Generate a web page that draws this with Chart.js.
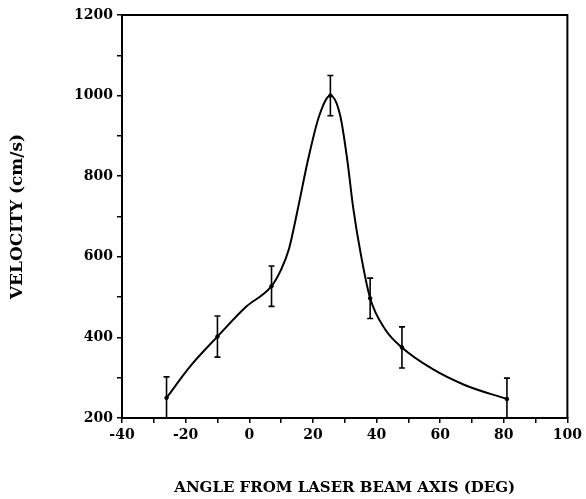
<!DOCTYPE html>
<html>
<head>
<meta charset="utf-8">
<script src="https://cdn.jsdelivr.net/npm/chart.js@4/dist/chart.umd.min.js"></script>
<style>
html,body{margin:0;padding:0;background:#fff;}
#wrap{width:586px;height:499px;position:relative;}
</style>
</head>
<body>
<div id="wrap"><canvas id="c" width="586" height="499"></canvas></div>
<script>
// Measured points (angle in deg, velocity in cm/s, error half-height)
const angles   = [-26, -10, 7, 25.5, 38, 48, 81];
const velocity = [250, 402, 527, 1000, 497, 375, 247];
const errors   = [52, 51, 50, 50, 50, 51, 52];

// Smooth curve
const curveX = [-26, -18.7, -10, -1, 7, 10, 12.5, 15.3, 18.6, 22, 25.5, 28.6, 30.8, 32.7, 35, 38, 42.8, 48, 57.3, 67.7, 81];
const curveY = [250, 327, 402, 476, 527, 568, 620, 720, 845, 950, 1000, 950, 841, 720, 609, 497, 419, 375, 323, 282, 247];

const xTicksMajor = [-40, -20, 0, 20, 40, 60, 80, 100];
const yTicksMajor = [200, 400, 600, 800, 1000, 1200];

const FONT = 'DejaVu Serif';

const errorBarPlugin = {
  id: 'errorBars',
  afterDatasetsDraw(chart) {
    const ctx = chart.ctx, xs = chart.scales.x, ys = chart.scales.y, a = chart.chartArea;
    ctx.save();
    ctx.beginPath();
    ctx.rect(a.left, a.top, a.right - a.left, a.bottom - a.top);
    ctx.clip();
    ctx.strokeStyle = '#000';
    ctx.lineWidth = 1.6;
    angles.forEach((ang, i) => {
      const px = xs.getPixelForValue(ang);
      const top = ys.getPixelForValue(velocity[i] + errors[i]);
      const bot = ys.getPixelForValue(velocity[i] - errors[i]);
      ctx.beginPath();
      ctx.moveTo(px, top); ctx.lineTo(px, bot);
      ctx.moveTo(px - 3, top); ctx.lineTo(px + 3, top);
      ctx.moveTo(px - 3, bot); ctx.lineTo(px + 3, bot);
      ctx.stroke();
    });
    ctx.restore();
  }
};

const framePlugin = {
  id: 'frame',
  afterDraw(chart) {
    const ctx = chart.ctx, a = chart.chartArea;
    ctx.save();
    ctx.strokeStyle = '#000';
    ctx.lineWidth = 2;
    ctx.beginPath();
    ctx.moveTo(a.left, a.top); ctx.lineTo(a.right, a.top); ctx.lineTo(a.right, a.bottom);
    ctx.stroke();
    ctx.restore();
  }
};

new Chart(document.getElementById('c'), {
  type: 'scatter',
  data: {
    datasets: [
      {
        type: 'line',
        data: curveX.map((x, i) => ({x: x, y: curveY[i]})),
        borderColor: '#000',
        borderWidth: 2,
        pointRadius: 0,
        cubicInterpolationMode: 'monotone',
        fill: false
      },
      {
        data: angles.map((x, i) => ({x: x, y: velocity[i]})),
        backgroundColor: '#000',
        borderColor: '#000',
        pointRadius: 1.8
      }
    ]
  },
  options: {
    responsive: false,
    animation: false,
    devicePixelRatio: 1,
    layout: {padding: {top: 15, right: 16, left: 0, bottom: 0}},
    plugins: {legend: {display: false}, tooltip: {enabled: false}},
    scales: {
      x: {
        type: 'linear', min: -40, max: 100,
        afterFit(s) { s.height = 81; },
        ticks: {
          stepSize: 10, autoSkip: false, maxRotation: 0, padding: 4,
          color: '#000', font: {family: FONT, weight: 'bold', size: 14},
          callback: v => xTicksMajor.includes(v) ? String(v) : ''
        },
        grid: {drawOnChartArea: false, tickLength: 5, color: '#000', lineWidth: 1.5},
        border: {color: '#000', width: 2},
        title: {display: true, text: 'ANGLE FROM LASER BEAM AXIS (DEG)', color: '#000',
                font: {family: FONT, weight: 'bold', size: 15}, padding: {top: 0, bottom: 2}}
      },
      y: {
        type: 'linear', min: 200, max: 1200,
        afterFit(s) { s.width = 122; },
        ticks: {
          stepSize: 100, autoSkip: false, padding: 4,
          color: '#000', font: {family: FONT, weight: 'bold', size: 14},
          callback: v => yTicksMajor.includes(v) ? String(v) : ''
        },
        grid: {drawOnChartArea: false, tickLength: 5, color: '#000', lineWidth: 1.5},
        border: {color: '#000', width: 2},
        title: {display: true, text: 'VELOCITY (cm/s)', color: '#000',
                font: {family: FONT, weight: 'bold', size: 17}, padding: {top: 7, bottom: 0}}
      }
    }
  },
  plugins: [errorBarPlugin, framePlugin]
});
</script>
</body>
</html>
